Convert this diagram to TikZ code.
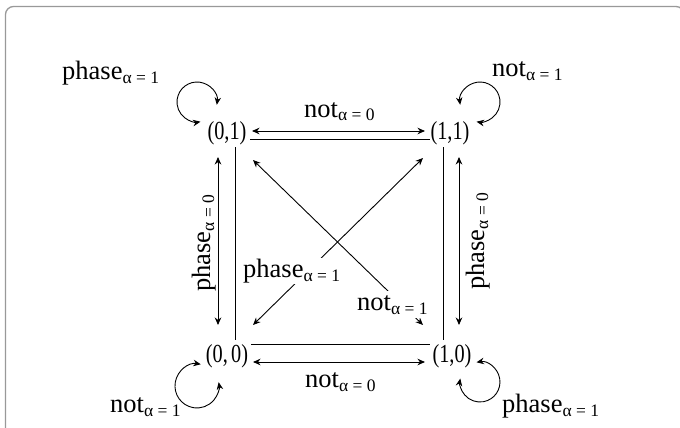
\documentclass[tikz,border=0pt]{standalone}
\usepackage{fontspec}
\setmainfont{Liberation Serif}
\usetikzlibrary{arrows.meta}
\newcommand{\mylbl}[2]{#1\raisebox{-4pt}{\fontsize{17.5}{19}\selectfont α = #2}}
\newcommand{\mytup}[1]{\scalebox{0.78}[1]{\fontsize{26}{28}\selectfont #1}}
\begin{document}
\begin{tikzpicture}[x=1pt,y=-1pt,
  lab/.style={inner sep=0pt, anchor=base west, font=\fontsize{26.5}{30}\selectfont},
  tuple/.style={inner sep=0pt},
  conn/.style={line width=0.9pt},
  dbl/.style={conn, {Stealth[length=7.5pt,width=6.5pt]}-{Stealth[length=7.5pt,width=6.5pt]}},
  frame/.style={line width=1.3pt, black!40, rounded corners=8pt},
]
\useasboundingbox (0,0) rectangle (680,428);
\begin{scope}
\clip (0,0) rectangle (680,428);
\draw[frame] (5.5,6.5) rectangle (684,445);
\end{scope}

% state nodes
\node[tuple] (n01) at (227,133) {\mytup{(0,1)}};
\node[tuple] (n11) at (450,133) {\mytup{(1,1)}};
\node[tuple] (n00) at (227,356) {\mytup{(0,\,0)}};
\node[tuple] (n10) at (452,356) {\mytup{(1,0)}};

% plain lines
\draw[conn] ([shift={(23,6)}]n01.center) -- ([shift={(-20,6)}]n11.center);
\draw[conn] ([shift={(24,-12)}]n00.center) -- ([shift={(-22,-12)}]n10.center);
\draw[conn] ([shift={(8,14)}]n01.center) -- ([shift={(8,-16)}]n00.center);
\draw[conn] ([shift={(-7,14)}]n11.center) -- ([shift={(-9,-16)}]n10.center);

% double arrows
\draw[dbl] ([shift={(25,-2)}]n01.center) -- ([shift={(-25,-2)}]n11.center);
\draw[dbl] ([shift={(26,6)}]n00.center) -- ([shift={(-27,6)}]n10.center);
\draw[dbl] ([shift={(-9,24)}]n01.center) -- ([shift={(-9,-31)}]n00.center);
\draw[dbl] ([shift={(9,24)}]n11.center) -- ([shift={(7,-31)}]n10.center);

% diagonals
\draw[dbl] ([shift={(26,27)}]n01.center) -- ([shift={(-29,-31)}]n10.center);
\draw[dbl] ([shift={(-27,25)}]n11.center) -- ([shift={(26,-31)}]n00.center);

% self loops
\draw[dbl] ([shift={(-10.2,-28.2)}]n01.center) arc[start angle=8, end angle=-280, radius=20];
\draw[dbl] ([shift={(10.2,-28.2)}]n11.center) arc[start angle=172, end angle=460, radius=20];
\draw[dbl] ([shift={(-26.2,8.3)}]n00.center) arc[start angle=-80, end angle=-370, radius=22];
\draw[dbl] ([shift={(24.5,6.3)}]n10.center) arc[start angle=260, end angle=550, radius=20];

% labels
\node[lab] (l1) at (62,79) {\mylbl{phase}{1}};
\node[lab] (l2) at (492,77) {\mylbl{not}{1}};
\node[lab] (l3) at (304,117) {\mylbl{not}{0}};
\node[lab] (l4) at (305,387) {\mylbl{not}{0}};
\node[lab] (l5) at (110,412) {\mylbl{not}{1}};
\node[lab] (l6) at (502,412) {\mylbl{phase}{1}};
\node[lab, fill=white, inner xsep=1pt, inner ysep=1pt] (l7) at (242,277) {\mylbl{phase}{1}};
\node[lab, fill=white, inner xsep=2pt, inner ysep=4pt] (l8) at (355,310) {\mylbl{not}{1}};
\node[lab, rotate=90] (l9) at (210,292) {\mylbl{phase}{0}};
\node[lab, rotate=90] (l10) at (484,290) {\mylbl{phase}{0}};
\end{tikzpicture}
\end{document}
